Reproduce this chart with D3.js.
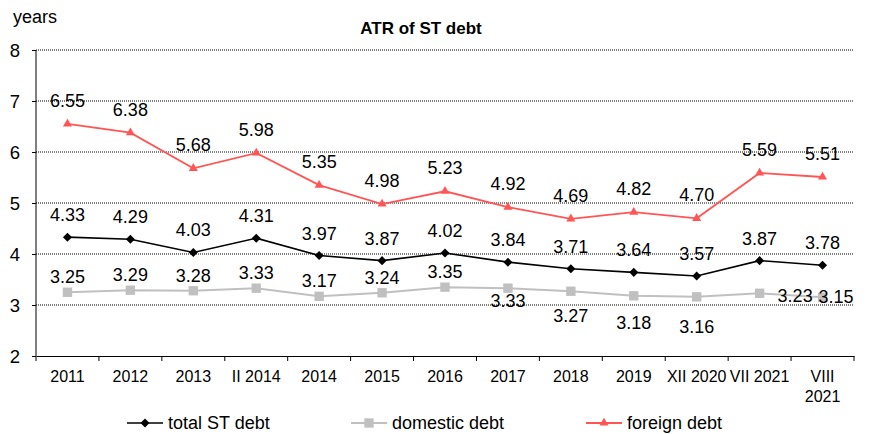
<!DOCTYPE html>
<html>
<head>
<meta charset="utf-8">
<script src="https://cdn.jsdelivr.net/npm/d3@7"></script>
<style>
  html, body { margin: 0; padding: 0; background: #fff; }
  svg { display: block; font-family: "Liberation Sans", Arial, sans-serif; }
</style>
</head>
<body>
<svg id="chart" width="870" height="434"></svg>
<script>
// Average time to refinancing of short-term debt, in years
const categories = ["2011", "2012", "2013", "II 2014", "2014", "2015", "2016", "2017", "2018", "2019", "XII 2020", "VII 2021", "VIII 2021"];
const totalDebt    = [4.33, 4.29, 4.03, 4.31, 3.97, 3.87, 4.02, 3.84, 3.71, 3.64, 3.57, 3.87, 3.78];
const domesticDebt = [3.25, 3.29, 3.28, 3.33, 3.17, 3.24, 3.35, 3.33, 3.27, 3.18, 3.16, 3.23, 3.15];
const foreignDebt  = [6.55, 6.38, 5.68, 5.98, 5.35, 4.98, 5.23, 4.92, 4.69, 4.82, 4.70, 5.59, 5.51];
const yTicks = [2, 3, 4, 5, 6, 7, 8];
const seriesNames = ["total ST debt", "domestic debt", "foreign debt"];

const svg = d3.select("#chart");
const plot = { left: 36, right: 854, top: 50, bottom: 356 };

const x = d3.scaleBand().domain(categories).range([plot.left, plot.right]);
const y = d3.scaleLinear().domain([2, 8]).range([plot.bottom, plot.top]);
const cx = d => x(d) + x.bandwidth() / 2;

// Title and unit
svg.append("text").attr("x", 421).attr("y", 34).attr("text-anchor", "middle")
  .attr("font-size", 17).attr("font-weight", "bold").text("ATR of ST debt");
svg.append("text").attr("x", 13).attr("y", 23).attr("font-size", 18).text("years");

// Dotted gridlines
svg.append("g").selectAll("line").data(yTicks.filter(t => t > 2)).join("line")
  .attr("x1", plot.left).attr("x2", plot.right)
  .attr("y1", d => y(d)).attr("y2", d => y(d))
  .attr("stroke", "#000").attr("stroke-width", 1).attr("stroke-dasharray", "1,1");

// Y axis
const yAxis = svg.append("g").attr("transform", `translate(${plot.left},0)`)
  .call(d3.axisLeft(y).tickValues(yTicks).tickSize(4).tickPadding(12).tickFormat(d3.format("d")));
yAxis.select(".domain").attr("stroke", "#000").attr("d", `M0,${plot.top}V${plot.bottom}`);
yAxis.selectAll("text").attr("font-size", 18.5).attr("fill", "#000")
  .attr("font-family", "Liberation Sans, Arial, sans-serif").attr("dy", "0.36em");

// X axis
const xAxis = svg.append("g").attr("transform", `translate(0,${plot.bottom})`)
  .call(d3.axisBottom(x).tickSize(0).tickFormat(""));
xAxis.select(".domain").attr("stroke", "#000");
const boundaries = categories.map(c => x(c)).concat([plot.right]);
svg.append("g").selectAll("line").data(boundaries).join("line")
  .attr("x1", d => d).attr("x2", d => d)
  .attr("y1", plot.bottom).attr("y2", plot.bottom + 5).attr("stroke", "#000");

// Category labels (wrap the last one onto two lines)
const xl = svg.append("g").attr("font-size", 16).attr("text-anchor", "middle");
categories.forEach((c, i) => {
  const t = xl.append("text").attr("x", cx(c)).attr("y", 382);
  if (i === categories.length - 1) {
    const parts = c.split(" ");
    t.append("tspan").attr("x", cx(c)).attr("dy", 0).text(parts[0]);
    t.append("tspan").attr("x", cx(c)).attr("dy", 20).text(parts[1]);
  } else {
    t.text(c);
  }
});

const line = d3.line().x((d, i) => cx(categories[i])).y(d => y(d));

const series = [
  { name: seriesNames[0], values: totalDebt,    color: "#000000", symbol: d3.symbolDiamond2, size: 52, width: 1.6 },
  { name: seriesNames[1], values: domesticDebt, color: "#c0c0c0", symbol: d3.symbolSquare2, size: 112, width: 2 },
  { name: seriesNames[2], values: foreignDebt,  color: "#ff5555", symbol: d3.symbolTriangle2, size: 58, width: 1.8 }
];

series.forEach(s => {
  svg.append("path").datum(s.values).attr("d", line)
    .attr("fill", "none").attr("stroke", s.color).attr("stroke-width", s.width);
});
series.forEach(s => {
  svg.append("g").selectAll("path").data(s.values).join("path")
    .attr("transform", (d, i) => `translate(${cx(categories[i])},${y(d)})`)
    .attr("d", d3.symbol().type(s.symbol).size(s.size))
    .attr("fill", s.color);
});

// Value labels
const fmt = d3.format(".2f");
const labels = svg.append("g").attr("font-size", 18).attr("fill", "#000");
function addLabels(values, placer) {
  values.forEach((v, i) => {
    const p = placer(i, v);
    labels.append("text")
      .attr("x", cx(categories[i]) + p.dx)
      .attr("y", y(v) + p.dy)
      .attr("text-anchor", p.anchor)
      .text(fmt(v));
  });
}
addLabels(foreignDebt, () => ({ dx: 0, dy: -17, anchor: "middle" }));
addLabels(totalDebt, () => ({ dx: 0, dy: -16, anchor: "middle" }));
// Domestic labels sit above early points, below later ones, and beside the last two
const belowOffsets = { 7: 19, 8: 31, 9: 33, 10: 36 };
addLabels(domesticDebt, (i) => {
  const last = categories.length - 1;
  if (i === last) return { dx: -4, dy: 6, anchor: "start" };
  if (i === last - 1) return { dx: 18, dy: 9, anchor: "start" };
  if (belowOffsets[i] !== undefined) return { dx: 0, dy: belowOffsets[i], anchor: "middle" };
  return { dx: 0, dy: -9, anchor: "middle" };
});

// Legend
const legendX = [127, 351, 586];
const lg = svg.append("g");
series.forEach((s, i) => {
  const g = lg.append("g").attr("transform", `translate(${legendX[i]},423)`);
  g.append("line").attr("x1", 0).attr("x2", 36).attr("stroke", s.color).attr("stroke-width", s.width);
  g.append("path").attr("transform", "translate(18,0)")
    .attr("d", d3.symbol().type(s.symbol).size(s.size)).attr("fill", s.color);
  g.append("text").attr("x", 41).attr("y", 6).attr("font-size", 18).text(s.name);
});
</script>
</body>
</html>
